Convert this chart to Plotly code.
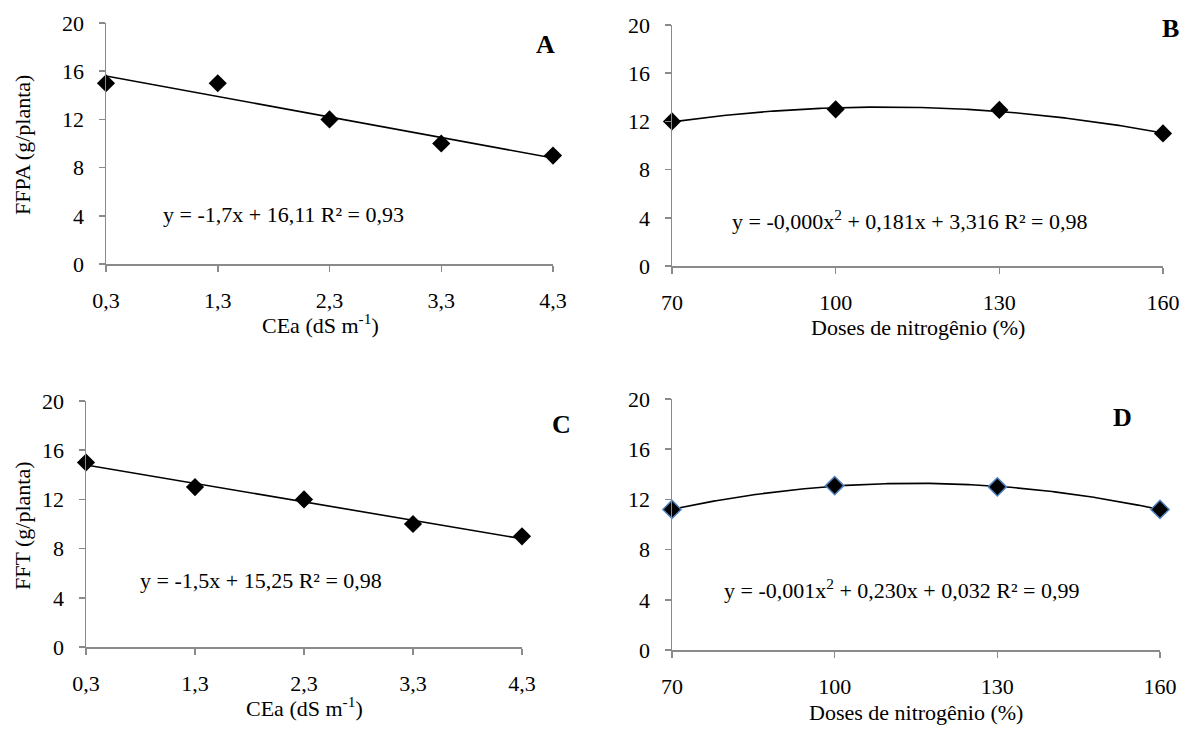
import numpy as np
import plotly.graph_objects as go

W, H = 1193, 731

# ---- data ----
cea_vals = [0.3, 1.3, 2.3, 3.3, 4.3]
cea_ticks = ["0,3", "1,3", "2,3", "3,3", "4,3"]
dose_vals = [70, 100, 130, 160]
dose_ticks = ["70", "100", "130", "160"]

ffpa_cea = [15, 15, 12, 10, 9]        # panel A
ffpa_dose = [12, 13, 12.95, 11]       # panel B
fft_cea = [15, 13, 12, 10, 9]         # panel C
fft_dose = [11.2, 13.1, 13.0, 11.2]   # panel D

eq_a = "y = -1,7x + 16,11 R² = 0,93"
eq_b = "y = -0,000x<sup>2</sup> + 0,181x + 3,316 R² = 0,98"
eq_c = "y = -1,5x + 15,25 R² = 0,98"
eq_d = "y = -0,001x<sup>2</sup> + 0,230x + 0,032 R² = 0,99"

y_ticks = [0, 4, 8, 12, 16, 20]

FONT = "Liberation Serif"
AX = "#8a8a8a"
FS = 22


def px(x):
    return x / W


def py(y):
    return 1 - y / H


fig = go.Figure()

panels = [
    # (xs, ys, degree, axis id, domain px (x0,x1,ybottom,ytop), outline)
    (cea_vals, ffpa_cea, 1, "", (106, 553, 264, 23), None),
    (dose_vals, ffpa_dose, 2, "2", (672, 1163, 266, 25), None),
    (cea_vals, fft_cea, 1, "3", (86, 522, 647, 401), None),
    (dose_vals, fft_dose, 2, "4", (672, 1160, 650, 399), "#4F81BD"),
]

for xs, ys, deg, ax, dom, outline in panels:
    coef = np.polyfit(xs, ys, deg)
    xf = np.linspace(min(xs), max(xs), 200)
    yf = np.polyval(coef, xf)
    fig.add_trace(go.Scatter(x=xf, y=yf, mode="lines",
                             line=dict(color="black", width=1.6),
                             xaxis="x" + ax, yaxis="y" + ax,
                             showlegend=False, hoverinfo="skip",
                             cliponaxis=False))
    fig.add_trace(go.Scatter(x=xs, y=ys, mode="markers",
                             marker=dict(symbol="diamond", size=14, color="black",
                                         line=dict(color=outline or "black",
                                                   width=1.5 if outline else 0)),
                             xaxis="x" + ax, yaxis="y" + ax,
                             showlegend=False, cliponaxis=False))

layout = dict(
    width=W, height=H, autosize=False,
    template="none",
    margin=dict(l=0, r=0, t=0, b=0, pad=0),
    paper_bgcolor="white", plot_bgcolor="white",
    font=dict(family=FONT, size=FS, color="black"),
)

for xs, ys, deg, ax, dom, outline in panels:
    x0, x1, yb, yt = dom
    is_cea = ax in ("", "3")
    layout["xaxis" + ax] = dict(
        domain=[px(x0), px(x1)], anchor="y" + ax,
        range=[0.3, 4.3] if is_cea else [70, 160],
        tickvals=cea_vals if is_cea else dose_vals,
        ticktext=cea_ticks if is_cea else dose_ticks,
        showline=True, linecolor=AX, linewidth=1.5,
        ticks="outside", tickcolor=AX, ticklen=6, tickwidth=1.5,
        showgrid=False, zeroline=False, ticklabelstandoff=10,
        automargin=False,
        tickfont=dict(family=FONT, size=FS, color="black"),
    )
    layout["yaxis" + ax] = dict(
        domain=[py(yb), py(yt)], anchor="x" + ax,
        range=[0, 20], tickvals=y_ticks,
        showline=True, linecolor=AX, linewidth=1.5,
        ticks="outside", tickcolor=AX, ticklen=6, tickwidth=1.5,
        showgrid=False, zeroline=False, ticklabelstandoff=10,
        automargin=False,
        tickfont=dict(family=FONT, size=FS, color="black"),
    )

fig.update_layout(**layout)


def ann(text, x, y, size=FS, bold=False, angle=0):
    fig.add_annotation(text=("<b>%s</b>" % text) if bold else text,
                       x=px(x), y=py(y), xref="paper", yref="paper",
                       showarrow=False, textangle=angle,
                       font=dict(family=FONT, size=size, color="black"),
                       xanchor="center", yanchor="middle")


# equations
ann(eq_a, 283, 214)
ann(eq_b, 909, 220)
ann(eq_c, 261, 580)
ann(eq_d, 901, 589)
# panel letters
ann("A", 545, 44, size=26, bold=True)
ann("B", 1170, 29, size=26, bold=True)
ann("C", 561, 424, size=26, bold=True)
ann("D", 1122, 417, size=26, bold=True)
# axis titles
ann("CEa (dS m<sup>-1</sup>)", 320, 324)
ann("Doses de nitrogênio (%)", 918, 327)
ann("CEa (dS m<sup>-1</sup>)", 304, 707)
ann("Doses de nitrogênio (%)", 916, 712)
ann("FFPA (g/planta)", 22, 145, angle=-90)
ann("FFT (g/planta)", 22, 526, angle=-90)

fig.write_html("out.html",
               config={"displayModeBar": False, "staticPlot": True},
               post_script="document.body.style.margin='0px';"
                           "document.body.style.padding='0px';")
